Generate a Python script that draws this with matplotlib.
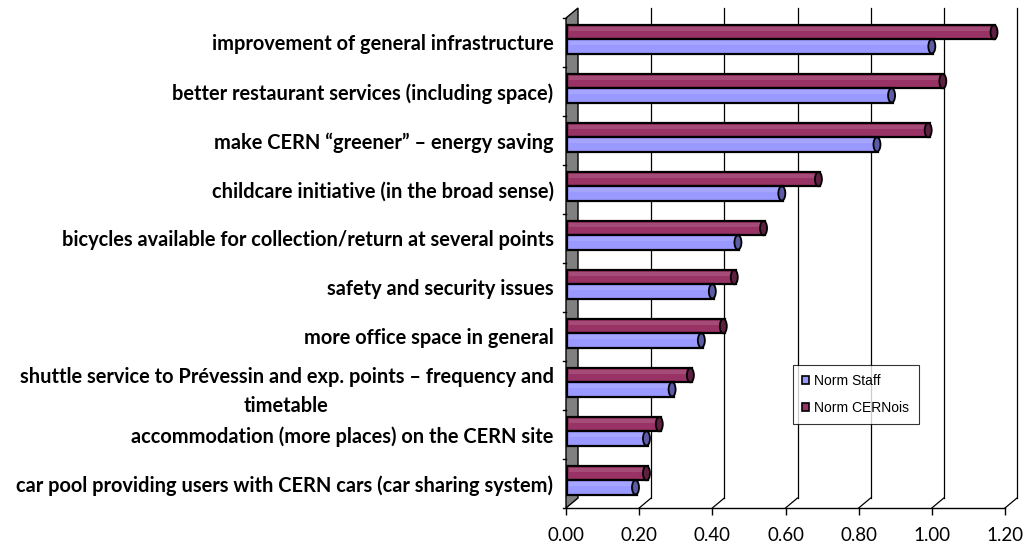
import numpy as np
import matplotlib
matplotlib.use("Agg")
import matplotlib.pyplot as plt
from matplotlib.patches import Ellipse, Polygon, Patch

# categories from top to bottom
categories = [
    "improvement of general infrastructure",
    "better restaurant services (including space)",
    "make CERN \u201cgreener\u201d \u2013 energy saving",
    "childcare initiative (in the broad sense)",
    "bicycles available for collection/return at several points",
    "safety and security issues",
    "more office space in general",
    "shuttle service to Pr\u00e9vessin and exp. points \u2013 frequency and\ntimetable",
    "accommodation (more places) on the CERN site",
    "car pool providing users with CERN cars (car sharing system)",
]
norm_staff = [1.00, 0.89, 0.85, 0.59, 0.47, 0.40, 0.37, 0.29, 0.22, 0.19]
norm_cernois = [1.17, 1.03, 0.99, 0.69, 0.54, 0.46, 0.43, 0.34, 0.255, 0.22]
xticks = [0.0, 0.2, 0.4, 0.6, 0.8, 1.0, 1.2]

plt.rcParams['font.family'] = ['Lato', 'DejaVu Sans']

fig = plt.figure(figsize=(10.27, 5.48), dpi=100)
ax = fig.add_axes([566/1027, 40/548, 439/1027, 490/548])
n = len(categories)
ax.set_xlim(0, 1.2)
ax.set_ylim(n - 0.5, -0.5)
for s in ax.spines.values():
    s.set_visible(False)

# 3d depth offset (pixels -> data units)
DX = 1.2 * 12 / 439
DY = n * 10 / 490

# grey side wall
wall = Polygon([(0, n - 0.5), (DX, n - 0.5 - DY), (DX, -0.5 - DY), (0, -0.5)],
               closed=True, facecolor="#808080", edgecolor="black", lw=1, clip_on=False, zorder=1)
ax.add_patch(wall)

# back gridlines + floor diagonals
for v in xticks[1:]:
    ax.plot([v + DX, v + DX], [n - 0.5 - DY, -0.5 - DY], color="black", lw=0.9, clip_on=False, zorder=0)
    ax.plot([v, v + DX], [n - 0.5, n - 0.5 - DY], color="black", lw=0.9, clip_on=False, zorder=0)
ax.plot([0, 1.2], [n - 0.5, n - 0.5], color="black", lw=1, clip_on=False, zorder=2)

# category tick marks on the left
for b in np.arange(-0.5, n, 1.0):
    ax.plot([-0.008, 0], [b, b], color="black", lw=1, clip_on=False)

y = np.arange(n)
h = 0.29
cap_w = 1.2 * 7 / 439
series = [
    (norm_cernois, y - 0.21, "#993366", "#5e1f40", "Norm CERNois"),
    (norm_staff, y + 0.08, "#9999ff", "#5b5ba6", "Norm Staff"),
]
for vals, ys, col, capcol, lab in series:
    ax.barh(ys, vals, height=h, left=0.004, color=col, edgecolor="black", lw=1.6, zorder=3)
    # lighter highlight on the upper part of each cylinder
    ax.barh(ys - h * 0.22, np.array(vals) - 0.006, height=h * 0.28, left=0.008,
            color="white", alpha=0.12, lw=0, zorder=4)
    for v, yy in zip(vals, ys):
        ax.add_patch(Ellipse((v, yy), cap_w, h, facecolor=capcol, edgecolor="black", lw=1.3, zorder=5))

ax.set_yticks(y)
ax.set_yticklabels(categories, fontsize=14.4, fontweight="bold", multialignment="center",
                   linespacing=1.55)
ax.tick_params(axis="y", length=0, pad=9)
ax.set_xticks(xticks)
ax.set_xticklabels([f"{v:.2f}" for v in xticks], fontsize=13.5)
ax.tick_params(axis="x", length=5, width=1, pad=9, direction="out")

handles = [Patch(facecolor="#9999ff", edgecolor="black", lw=1.2, label="Norm Staff"),
           Patch(facecolor="#993366", edgecolor="black", lw=1.2, label="Norm CERNois")]
leg = ax.legend(handles=handles, loc="upper left", bbox_to_anchor=(0.517, 0.292),
                frameon=True, fancybox=False, edgecolor="black",
                handlelength=0.5, handleheight=0.5, handletextpad=0.4, labelspacing=0.95,
                borderpad=0.65, borderaxespad=0,
                prop={"family": "Liberation Sans", "size": 10})
leg.get_frame().set_linewidth(0.8)

fig.savefig("out.png", dpi=100)
